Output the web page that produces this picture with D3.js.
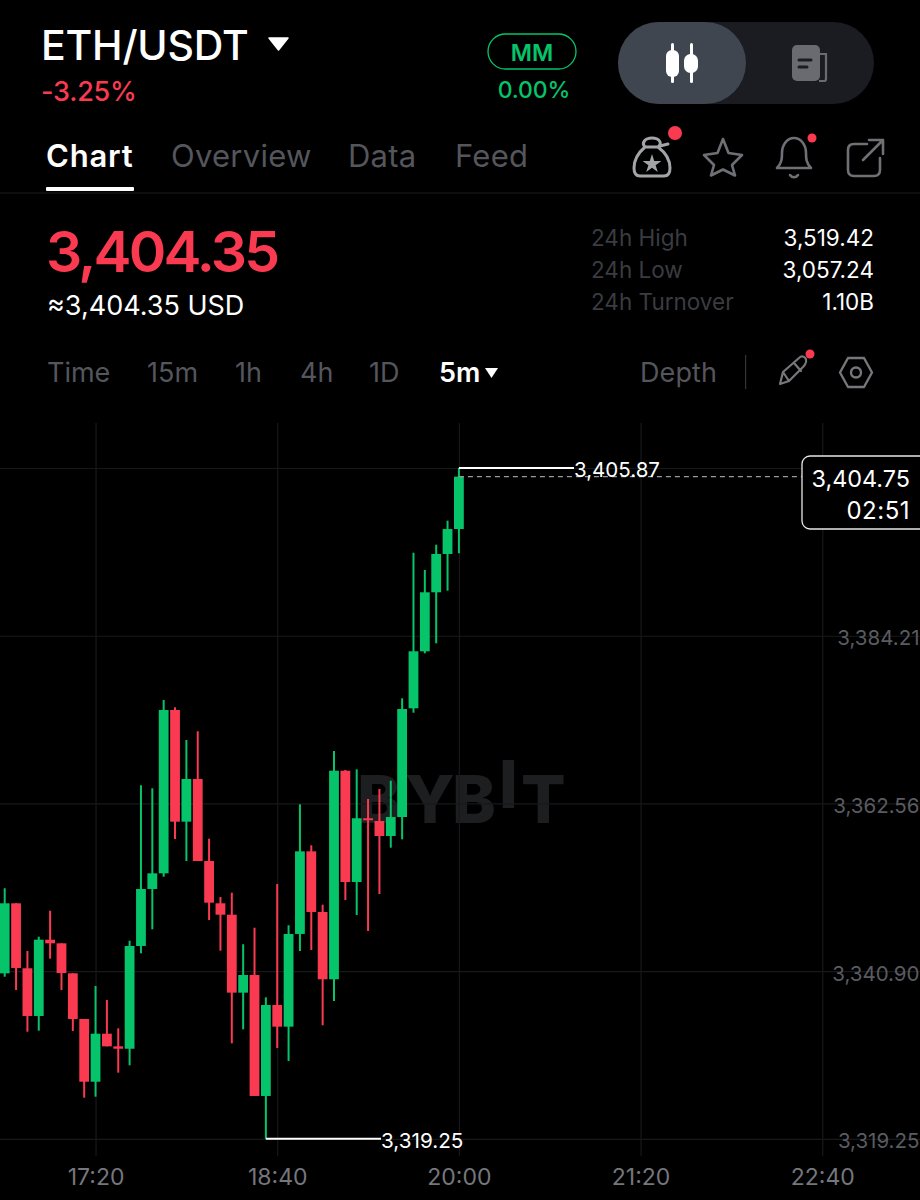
<!DOCTYPE html>
<html><head><meta charset="utf-8">
<script src="https://cdn.jsdelivr.net/npm/d3@7/dist/d3.min.js"></script>
<style>html,body{margin:0;padding:0;background:#000}svg{display:block}text{font-family:Inter,"Noto Sans",sans-serif}</style>
</head><body><div id="c"></div>
<script>
const symbol = "ETH/USDT";
const changePct = "-3.25%";
const lastPrice = "3,404.35";
const usdPrice = "≈3,404.35 USD";
const tabs = ["Chart","Overview","Data","Feed"];
const statLabels = ["24h High","24h Low","24h Turnover"];
const statValues = ["3,519.42","3,057.24","1.10B"];
const intervals = ["Time","15m","1h","4h","1D","5m"];
const priceTicks = [3405.87,3384.21,3362.56,3340.90,3319.25];
const timeTicks = ["17:20","18:40","20:00","21:20","22:40"];
const opens = [3340.62,3349.66,3341.27,3335.11,3344.96,3344.49,3340.62,3334.72,3326.62,3332.82,3331.19,3330.88,3344.15,3351.51,3353.53,3374.62,3360.20,3365.71,3355.12,3349.66,3348.19,3338.12,3340.40,3324.78,3336.53,3333.73,3345.70,3356.37,3348.54,3339.85,3366.78,3352.41,3360.64,3360.29,3358.35,3360.80,3374.84,3382.20,3389.82,3394.77,3397.99];
const closes = [3349.66,3341.31,3335.11,3344.96,3344.49,3340.66,3334.72,3326.62,3332.82,3331.19,3330.88,3344.15,3351.51,3353.53,3374.62,3360.20,3365.71,3355.12,3349.74,3348.19,3338.12,3340.40,3324.78,3336.53,3333.73,3345.70,3356.37,3348.54,3339.85,3366.78,3352.41,3360.64,3360.38,3358.35,3360.80,3374.75,3382.20,3389.82,3394.77,3397.99,3404.75];
const highs = [3351.60,3349.66,3343.50,3345.35,3348.70,3344.49,3340.62,3334.72,3338.98,3337.17,3333.52,3344.83,3364.90,3364.51,3375.91,3374.97,3370.75,3371.87,3358.00,3350.47,3351.03,3344.37,3346.51,3337.52,3352.15,3346.82,3362.44,3357.15,3349.48,3369.33,3366.87,3366.96,3363.13,3364.42,3365.49,3376.13,3394.93,3392.70,3395.97,3399.07,3405.87];
const lows = [3340.18,3338.46,3333.08,3333.21,3342.51,3338.46,3333.17,3324.56,3324.69,3331.19,3327.79,3328.74,3343.20,3346.30,3353.09,3357.96,3355.12,3355.12,3347.50,3343.54,3331.58,3333.39,3324.78,3319.25,3330.97,3329.30,3343.50,3343.63,3333.91,3337.04,3350.09,3348.15,3346.08,3350.86,3356.84,3357.92,3374.27,3381.94,3383.23,3390.03,3394.86];
const currentPrice = 3404.75;
const countdown = "02:51";
const highLabel = 3405.87, lowLabel = 3319.25;

const RED="#f93a50", GREEN="#06c46a", GRID="#17181b", DIM="#54565c", FAINT="#3a3c41";
const svg = d3.select("#c").append("svg").attr("width",920).attr("height",1200).attr("viewBox","0 0 920 1200");
const T=(s,x,y,size,fill,w=400,anchor="start",ls=0)=>svg.append("text").text(s).attr("x",x).attr("y",y).attr("font-size",size).attr("fill",fill).attr("font-weight",w).attr("text-anchor",anchor).attr("letter-spacing",ls);

// header
T(symbol,41,60,41,"#fff",500,"start",-0.2);
svg.append("path").attr("d","M269 38H288L278.5 50Z").attr("fill","#fff").attr("stroke","#fff").attr("stroke-width",1.5).attr("stroke-linejoin","round");
T(changePct,41,101,27,RED,500,"start",-0.2);
svg.append("rect").attr("x",488).attr("y",34).attr("width",88).attr("height",35).attr("rx",17.5).attr("fill","none").attr("stroke",GREEN).attr("stroke-width",1.3);
T("MM",532,61,23,GREEN,600,"middle");
T("0.00%",534,98,23,GREEN,500,"middle",-0.1);
svg.append("rect").attr("x",618).attr("y",22).attr("width",256).attr("height",82).attr("rx",41).attr("fill","#1b1c21");
svg.append("rect").attr("x",618).attr("y",22).attr("width",128).attr("height",82).attr("rx",41).attr("fill","#3f4650");
const ic=svg.append("g").attr("fill","#fff");
ic.append("rect").attr("x",671).attr("y",43).attr("width",3).attr("height",40).attr("rx",1.5);
ic.append("rect").attr("x",666).attr("y",50).attr("width",13).attr("height",27).attr("rx",6);
ic.append("rect").attr("x",690).attr("y",43).attr("width",3).attr("height",40).attr("rx",1.5);
ic.append("rect").attr("x",684).attr("y",54).attr("width",14).attr("height",19).attr("rx",6.5);
svg.append("rect").attr("x",792).attr("y",45).attr("width",28).attr("height",36).attr("rx",5).attr("fill","#6a6b70");
svg.append("path").attr("d","M820 54H826V79Q826 81 824 81H819").attr("fill","none").attr("stroke","#6a6b70").attr("stroke-width",2.2);
svg.append("path").attr("d","M799 60H811M799 67H807").attr("stroke","#1b1c21").attr("stroke-width",3).attr("stroke-linecap","round");

// tabs
const tabX=[46,171,348,455];
tabs.forEach((t,i)=>T(t,tabX[i],167,31,i==0?"#fff":DIM,i==0?600:400,"start",i==0?0.8:0.25));
svg.append("rect").attr("x",46).attr("y",187).attr("width",88).attr("height",4).attr("rx",1).attr("fill","#fff");
svg.append("rect").attr("x",0).attr("y",192.5).attr("width",920).attr("height",1).attr("fill","#1b1c1f");

// toolbar icons
const st=(d,c="#8a8b8f",w=2.6)=>svg.append("path").attr("d",d).attr("fill","none").attr("stroke",c).attr("stroke-width",w).attr("stroke-linejoin","round").attr("stroke-linecap","round");
const dot=(x,y,r)=>svg.append("circle").attr("cx",x).attr("cy",y).attr("r",r).attr("fill",RED);
st("M645 147C641 143 645 138 652 138C659 138 663 143 658 147C666 153 670 161 670 168C670 174 667 176 664 176H640C636 176 634 173 634 168C634 161 638 153 645 147ZM645 147H658M660 146L668 144","#a2a4a8",3);
svg.append("path").attr("d",d3.symbol(d3.symbolStar,110)()).attr("transform","translate(652,164)").attr("fill","#a2a4a8");
dot(675,133,7);
st("M723 139L728.5 153L742 155L732 165L735 175.5L723 169.5L711 175.5L714 165L704 155L717.5 153Z","#6f7075",2.6);
st("M777 168H811C806 163 806 158 806 153C806 145 801 138 794 138C787 138 782 145 782 153C782 158 782 163 777 168ZM790 175C792 178 796 178 798 175","#6f7075",2.6);
dot(812,138,4.5);
st("M867 144H854C850 144 848 146 848 150V170C848 174 850 176 854 176H874C878 176 880 174 880 170V158M863 160L883 140M869 140H883V154","#6f7075",2.6);

// price block
T(lastPrice,46,272,57,RED,600,"start",-2.8);
T(usdPrice,47,315,27,"#fff",400);
statLabels.forEach((t,i)=>{
  T(t,591,246+i*32,22.5,FAINT,400);
  T(statValues[i],874,246+i*32,22.5,"#fff",400,"end");
});

// interval row
const ivX=[47,147,235,300,369,439];
intervals.forEach((t,i)=>T(t,ivX[i],382,27,i==5?"#fff":DIM,i==5?600:400));
svg.append("path").attr("d","M485 368H498L491.5 378Z").attr("fill","#fff");
T("Depth",640,382,27,DIM,400,"start",0.1);
svg.append("rect").attr("x",745).attr("y",355).attr("width",1.2).attr("height",34).attr("fill","#333");
st("M780 384L783 372L799 358C802 355 806 357 806 360C807 363 805 364 804 366L789 381ZM783 372L789 381M794 363L801 371","#76777b",2.2);
dot(810,354,4.5);
st("M840 372.5L848 358H864L872 372.5L864 387H848Z","#76777b",2.4);
svg.append("circle").attr("cx",856).attr("cy",372.5).attr("r",5).attr("fill","none").attr("stroke","#76777b").attr("stroke-width",2.4);

// watermark
const wmLetters = ["B","Y","B","I","T"];
const wmX = [357,405,452,499,521];
wmLetters.forEach((l,i)=>svg.append("text").text(l).attr("x",wmX[i]).attr("y",l==="I"?808:823).attr("font-size",66).attr("font-weight",800).attr("fill","#1d1e20"));

// scales
const time0 = new Date(2024,0,1,16,40);
const candleTime = i => d3.timeMinute.offset(time0, i*5);
const x = d3.scaleTime().domain([time0, candleTime(40)]).range([4.7,458.9]);
const y = d3.scaleLinear().domain([lowLabel,highLabel]).range([1138.8,468]);
const tickDates = timeTicks.map((t,i)=>new Date(2024,0,1,+t.slice(0,2),+t.slice(3)));

// grid + axes
const yAxis = d3.axisRight(y).tickValues(priceTicks).tickSize(920).tickFormat(d3.format(",.2f"));
const yG = svg.append("g").call(yAxis);
yG.select(".domain").remove();
yG.selectAll(".tick line").attr("stroke",GRID).attr("stroke-width",1.2);
yG.selectAll(".tick text").attr("x",919.5).attr("dy",9).attr("text-anchor","end").attr("font-size",20.5).attr("fill","#5a5c61").attr("font-family","Inter")
  .filter(d=>d===highLabel).remove();
const xAxis = d3.axisBottom(x).tickValues(tickDates).tickSize(733).tickPadding(0).tickFormat(d3.timeFormat("%H:%M"));
const xG = svg.append("g").attr("transform","translate(0,423)").call(xAxis);
xG.select(".domain").remove();
xG.selectAll(".tick line").attr("stroke",GRID).attr("stroke-width",1.2);
xG.selectAll(".tick text").attr("y",741).attr("dy",21).attr("font-size",23).attr("fill","#75777c").attr("font-family","Inter").attr("text-anchor","middle");

// candles
const data = opens.map((o,i)=>({t:candleTime(i),o,c:closes[i],h:highs[i],l:lows[i]}));
const col = d=>d.c>=d.o?GREEN:RED;
const g = svg.append("g");
g.selectAll("line.w").data(data).join("line").attr("class","w")
 .attr("x1",d=>x(d.t)).attr("x2",d=>x(d.t)).attr("y1",d=>y(d.h)).attr("y2",d=>y(d.l)).attr("stroke",col).attr("stroke-width",2);
g.selectAll("rect.b").data(data).join("rect").attr("class","b")
 .attr("x",d=>x(d.t)-4.9).attr("width",9.8).attr("y",d=>y(Math.max(d.o,d.c))).attr("height",d=>Math.max(1.5,Math.abs(y(d.o)-y(d.c)))).attr("fill",col);

// current price line
const last=data[data.length-1];
svg.append("line").attr("x1",x(last.t)).attr("x2",802).attr("y1",y(currentPrice)).attr("y2",y(currentPrice)).attr("stroke","#9a9a9a").attr("stroke-width",1.2).attr("stroke-dasharray","5 4");
// hi/lo markers
const hiI=highs.indexOf(highLabel), loI=lows.indexOf(lowLabel);
svg.append("line").attr("x1",x(data[hiI].t)).attr("x2",574).attr("y1",y(highLabel)).attr("y2",y(highLabel)).attr("stroke","#fff").attr("stroke-width",2);
svg.append("text").text(d3.format(",.2f")(highLabel)).attr("x",574).attr("y",y(highLabel)+9).attr("font-size",20.5).attr("fill","#fff");
svg.append("line").attr("x1",x(data[loI].t)).attr("x2",381).attr("y1",y(lowLabel)).attr("y2",y(lowLabel)).attr("stroke","#fff").attr("stroke-width",2);
svg.append("text").text(d3.format(",.2f")(lowLabel)).attr("x",381).attr("y",y(lowLabel)+9).attr("font-size",20.7).attr("fill","#fff");

// price tag
svg.append("rect").attr("x",802).attr("y",456).attr("width",130).attr("height",73).attr("rx",8).attr("fill","#000").attr("stroke","#e8e8e8").attr("stroke-width",1.3);
T(d3.format(",.2f")(currentPrice),910,487,23.4,"#fff",400,"end");
T(countdown,910,519,24,"#fff",400,"end",0.5);
</script></body></html>
